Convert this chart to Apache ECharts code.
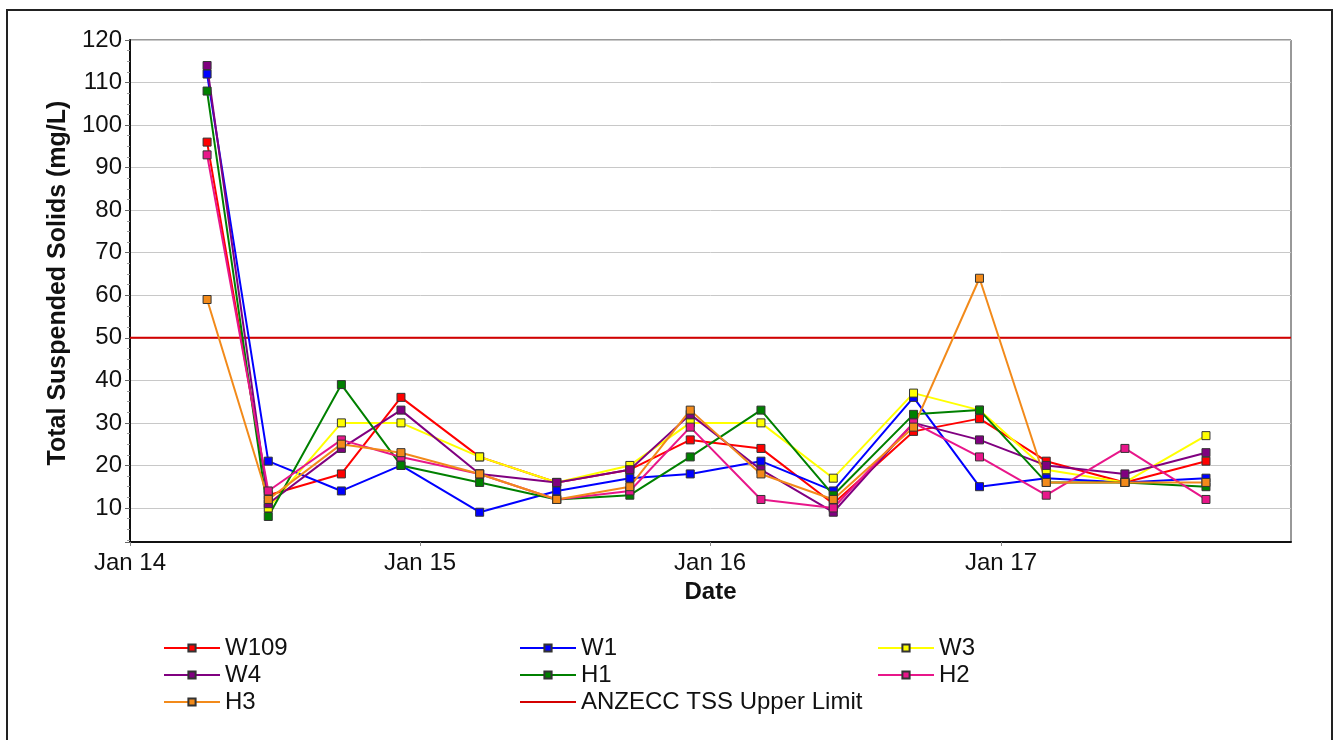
<!DOCTYPE html>
<html>
<head>
<meta charset="utf-8">
<script src="https://cdn.jsdelivr.net/npm/echarts@6/dist/echarts.min.js"></script>
<style>
html, body { margin: 0; padding: 0; background: #fff; }
#main { width: 1337px; height: 740px; }
</style>
</head>
<body>
<div id="main"></div>
<script>
// sampling dates
var dates = ['2014-04-08', '2014-06-24', '2014-09-24', '2014-12-08', '2015-03-17',
	'2015-06-22', '2015-09-22', '2015-12-07', '2016-03-05', '2016-06-04',
	'2016-09-13', '2016-12-05', '2017-02-27', '2017-06-06', '2017-09-16'];

// TSS values, mg/L
var w109 = [96, 13, 18, 36, 22, 16, 19, 26, 24, 11, 28, 31, 21, 16, 21];
var w1 = [112, 21, 14, 20, 9, 14, 17, 18, 21, 14, 36, 15, 17, 16, 17];
var w3 = ['-', 10, 30, 30, 22, 16, 20, 30, 30, 17, 37, 33, 19, 16, 27];
var w4 = [114, 11, 24, 33, 18, 16, 19, 32, 19, 9, 30, 26, 20, 18, 23];
var h1 = [108, 8, 39, 20, 16, 12, 13, 22, 33, 13, 32, 33, 16, 16, 15];
var h2 = [93, 14, 26, 22, 18, 12, 14, 29, 12, 10, 30, 22, 13, 24, 12];
var h3 = [59, 12, 25, 23, 18, 12, 15, 33, 18, 12, 29, 64, 16, 16, 16];

var limitDates = ['2014-01-01', '2018-01-01'];
var limitValue = [50, 50];

var font = '"Liberation Sans", Arial, sans-serif';

function pairs(xs, ys) {
	var out = [];
	for (var i = 0; i < xs.length; i++) {
		out.push([xs[i], ys[i]]);
	}
	return out;
}

function site(name, color, values) {
	return {
		name : name,
		type : 'line',
		data : pairs(dates, values),
		symbol : 'rect',
		symbolSize : 8,
		showAllSymbol : true,
		connectNulls : false,
		lineStyle : { color : color, width : 2 },
		itemStyle : { color : color, borderColor : '#333', borderWidth : 1 },
		emphasis : { disabled : true },
		z : 3
	};
}

var dom = document.getElementById('main');
var myChart = echarts.init(dom);

var legendText = { fontFamily : font, fontSize : 24, color : '#111', lineHeight : 24 };

function legendCol(left, names) {
	return {
		orient : 'vertical',
		left : left,
		top : 631,
		itemWidth : 56,
		itemHeight : 9,
		itemGap : 3,
		textStyle : legendText,
		data : names
	};
}

var option = {
	animation : false,
	backgroundColor : '#fff',
	textStyle : { fontFamily : font },
	graphic : [ {
		type : 'rect',
		shape : { x : 7, y : 10, width : 1325, height : 760 },
		style : { fill : 'none', stroke : '#222', lineWidth : 2 },
		silent : true
	} ],
	legend : [
		legendCol(158, [ 'W109', 'W4', 'H3' ]),
		legendCol(514, [ 'W1', 'H1', { name : 'ANZECC TSS Upper Limit', itemStyle : { opacity : 0 } } ]),
		legendCol(872, [ 'W3', 'H2' ])
	],
	grid : {
		left : 130,
		right : 46,
		top : 40,
		bottom : 198,
		show : true,
		borderColor : '#333',
		borderWidth : 1,
		outerBoundsMode : 'none'
	},
	xAxis : {
		type : 'time',
		min : '2014-01-01',
		max : '2018-01-01',
		splitNumber : 4,
		name : 'Date',
		nameLocation : 'middle',
		nameGap : 37,
		nameTextStyle : { fontFamily : font, fontSize : 24, fontWeight : 'bold', color : '#111' },
		axisLine : { lineStyle : { color : '#111', width : 2 } },
		axisTick : { show : true, length : 4, lineStyle : { color : '#888' } },
		axisLabel : {
			fontFamily : font,
			fontSize : 24,
			color : '#111',
			margin : 9,
			showMaxLabel : false,
			formatter : function(val) {
				var d = new Date(val);
				var y = d.getFullYear();
				if (y >= 2018) return '';
				return 'Jan ' + String(y).slice(2);
			}
		},
		splitLine : { show : false }
	},
	yAxis : {
		type : 'value',
		min : 2,
		max : 120,
		splitNumber : 12,
		name : 'Total Suspended Solids (mg/L)',
		nameLocation : 'middle',
		nameGap : 49,
		nameTextStyle : { fontFamily : font, fontSize : 25, fontWeight : 'bold', color : '#111', padding : [ 0, 0, 0, 16 ] },
		axisLine : { show : true, lineStyle : { color : '#111', width : 2 } },
		axisTick : { show : true, length : 5, lineStyle : { color : '#666' } },
		minorTick : { show : true, splitNumber : 4, length : 3, lineStyle : { color : '#999' } },
		axisLabel : {
			fontFamily : font,
			fontSize : 24,
			color : '#111',
			margin : 8,
			formatter : function(v) {
				return v % 10 === 0 ? String(v) : '';
			}
		},
		splitLine : { show : true, lineStyle : { color : '#c8c8c8', width : 1 } }
	},
	series : [
		site('W109', '#ff0000', w109),
		site('W1', '#0000ff', w1),
		site('W3', '#ffff00', w3),
		site('W4', '#800080', w4),
		site('H1', '#008000', h1),
		site('H2', '#e8168a', h2),
		site('H3', '#f28a1a', h3),
		{
			name : 'ANZECC TSS Upper Limit',
			type : 'line',
			data : pairs(limitDates, limitValue),
			symbol : 'none',
			lineStyle : { color : '#d40000', width : 2 },
			itemStyle : { color : '#d40000' },
			emphasis : { disabled : true },
			z : 2
		}
	]
};

if (option && typeof option === "object") {
	myChart.setOption(option, true);
}
</script>
</body>
</html>
